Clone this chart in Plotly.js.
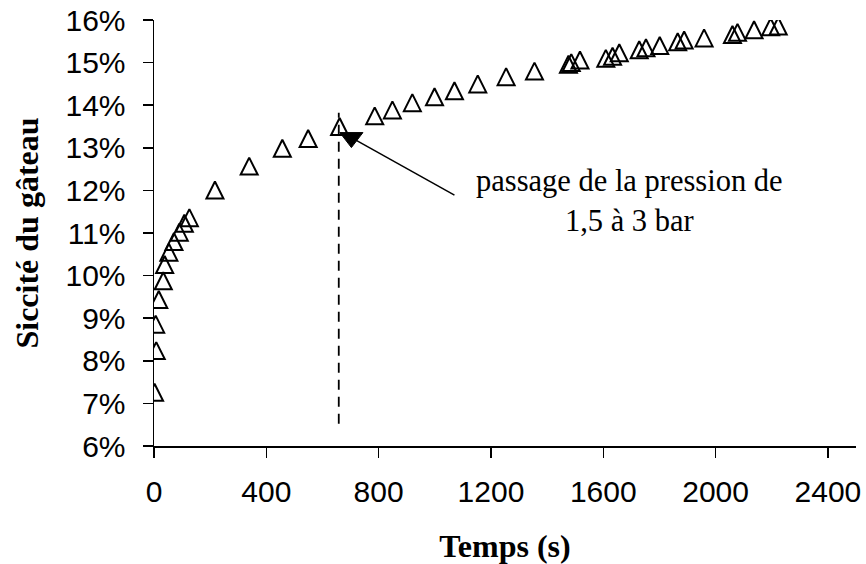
<!DOCTYPE html>
<html>
<head>
<meta charset="utf-8">
<script src="https://cdn.plot.ly/plotly-3.0.1.min.js"></script>
<style>html,body{margin:0;padding:0;background:#fff;} #chart{width:866px;height:564px;}</style>
</head>
<body>
<div id="chart"></div>
<script>
// Temps (s)
const temps = [2, 8, 6, 17, 33, 38, 53, 71, 90, 108, 126, 217, 339, 457, 549, 661,
  786, 849, 920, 999, 1070, 1153, 1254, 1355, 1476, 1486, 1517, 1609, 1633, 1657,
  1728, 1752, 1801, 1865, 1888, 1959, 2060, 2078, 2137, 2196, 2223];
// Siccité du gâteau (fraction)
const siccite = [0.0726, 0.0824, 0.0886, 0.0944, 0.0988, 0.1026, 0.1055, 0.1080, 0.1102, 0.1123, 0.1136,
  0.1201, 0.1257, 0.1299, 0.1322, 0.1350, 0.1375, 0.1389, 0.1406, 0.1420, 0.1434, 0.1450,
  0.1467, 0.1480, 0.1496, 0.1500, 0.1506, 0.1510, 0.1515, 0.1523, 0.1530, 0.1535, 0.1540,
  0.1549, 0.1553, 0.1558, 0.1566, 0.1571, 0.1577, 0.1584, 0.1586];
// pressure change point
const changeT = [703];
const changeY = [0.1324];
const dashT = 658;
const dashY = [0.0652, 0.1382];
const arrowEnd = {t: 1070, y: 0.1189};
const noteText = "passage de la pression de<br>1,5 à 3 bar";
const notePos = {t: 1692, y: 0.1174};
const xTicks = [0, 400, 800, 1200, 1600, 2000, 2400];
const yTicks = [0.06, 0.07, 0.08, 0.09, 0.10, 0.11, 0.12, 0.13, 0.14, 0.15, 0.16];

const traces = [
  {
    x: temps, y: siccite, type: 'scatter', mode: 'markers',
    marker: {symbol: 'arrow-down', angle: 180, standoff: 8.5, size: 17,
      color: 'rgba(0,0,0,0)', line: {color: '#000', width: 2}},
    hoverinfo: 'skip', showlegend: false
  },
  {
    x: changeT, y: changeY, type: 'scatter', mode: 'markers',
    marker: {symbol: 'triangle-down', size: 20, color: '#000', line: {color: '#000', width: 1}},
    hoverinfo: 'skip', showlegend: false
  }
];

const tickFont = {family: 'Liberation Sans, Arial, sans-serif', size: 30, color: '#000'};
const titleFont = {family: 'Liberation Serif, Times New Roman, serif', size: 32, color: '#000', weight: 'bold'};

const layout = {
  width: 866, height: 564,
  margin: {l: 154, r: 10, t: 20, b: 118},
  paper_bgcolor: '#fff', plot_bgcolor: '#fff',
  showlegend: false,
  xaxis: {
    range: [0, 2500], tickvals: xTicks, ticktext: xTicks.map(String),
    showgrid: false, zeroline: false, showline: true, linecolor: '#000', linewidth: 1.5,
    ticks: 'outside', ticklen: 10, tickwidth: 1.5, tickcolor: '#000',
    tickfont: tickFont, ticklabelstandoff: 8,
    title: {text: 'Temps (s)', font: titleFont, standoff: 28}
  },
  yaxis: {
    range: [0.06, 0.16], tickvals: yTicks, tickformat: '.0%',
    showgrid: false, zeroline: false, showline: true, linecolor: '#000', linewidth: 1.5,
    ticks: 'outside', ticklen: 10, tickwidth: 1.5, tickcolor: '#000',
    tickfont: tickFont, ticklabelstandoff: 11,
    title: {text: 'Siccité du gâteau', font: titleFont, standoff: 17}
  },
  shapes: [
    {type: 'line', xref: 'x', yref: 'y', x0: dashT, x1: dashT, y0: dashY[0], y1: dashY[1],
      line: {color: '#000', width: 1.8, dash: '10px,7px'}, layer: 'below'},
    {type: 'line', xref: 'x', yref: 'y', x0: changeT[0], y0: changeY[0], x1: arrowEnd.t, y1: arrowEnd.y,
      line: {color: '#000', width: 1.5}, layer: 'below'}
  ],
  annotations: [
    {x: notePos.t, y: notePos.y, xref: 'x', yref: 'y', text: noteText, showarrow: false,
      xanchor: 'center', yanchor: 'middle', align: 'center',
      font: {family: 'Liberation Serif, Times New Roman, serif', size: 30.5, color: '#000'}}
  ]
};

Plotly.newPlot('chart', traces, layout, {staticPlot: true, displayModeBar: false});
</script>
</body>
</html>
